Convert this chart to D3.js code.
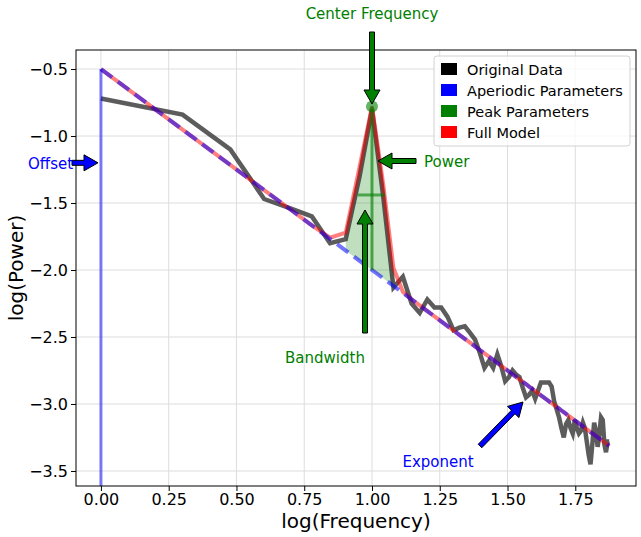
<!DOCTYPE html><html><head><meta charset="utf-8"><script src="https://cdn.jsdelivr.net/npm/d3@7"></script>
<style>body{margin:0;background:#fff}text{font-family:"DejaVu Sans",sans-serif}</style></head><body><svg id="c" width="641" height="537"></svg><script>
const freqs = d3.range(1,76);
const power = [-0.72,-0.84,-1.10,-1.47,-1.54,-1.60,-1.80,-1.77,-1.30,-0.80,-1.45,-2.13,
-2.05,-2.25,-2.32,-2.22,-2.28,-2.28,-2.35,-2.45,-2.43,-2.42,-2.47,-2.52,-2.62,-2.73,-2.68,-2.73,-2.63,-2.72,
-2.83,-2.80,-2.75,-2.78,-2.80,-2.88,-2.95,-2.93,-2.90,-2.96,-2.90,-2.84,-2.84,-2.84,-2.84,-2.87,-2.98,-3.04,
-3.10,-3.18,-3.25,-3.15,-3.12,-3.18,-3.22,-3.12,-3.18,-3.22,-3.20,-3.14,-3.18,-3.28,-3.38,-3.45,-3.30,-3.14,
-3.20,-3.32,-3.22,-3.10,-3.12,-3.30,-3.36,-3.28,-3.28];
const offset = -0.5, exponent = 1.5;
const peakCF = 10, peakPW = 1.22, peakSD = 0.95;
const bwEdges = [8.87, 11.17];
const bwLevel = -1.44;
const xTicks = [0,0.25,0.5,0.75,1,1.25,1.5,1.75];
const yTicks = [-3.5,-3,-2.5,-2,-1.5,-1,-0.5];
const legendItems = [["Original Data","black"],["Aperiodic Parameters","blue"],["Peak Parameters","green"],["Full Model","red"]];

const svg = d3.select("#c");
const L=76,R=636,T=50,B=486;
const x = d3.scaleLinear().domain([-0.092,1.974]).range([L,R]);
const y = d3.scaleLinear().domain([-3.612,-0.358]).range([B,T]);
const ap = f => offset - exponent*Math.log10(f);
const pk = f => peakPW*Math.exp(-((f-peakCF)**2)/(2*peakSD*peakSD));
const lx = f => x(Math.log10(f));

svg.append("g").selectAll("line").data(xTicks).join("line").attr("x1",d=>x(d)).attr("x2",d=>x(d)).attr("y1",T).attr("y2",B).attr("stroke","#ddd");
svg.append("g").selectAll("line").data(yTicks).join("line").attr("y1",d=>y(d)).attr("y2",d=>y(d)).attr("x1",L).attr("x2",R).attr("stroke","#ddd");

const line = d3.line().x(d=>d[0]).y(d=>d[1]);
const pf = freqs.filter(f=>f>=8&&f<=12);
const area = d3.area().x(f=>lx(f)).y0(f=>y(ap(f))).y1(f=>y(ap(f)+pk(f)));
svg.append("path").attr("d",area(pf)).attr("fill","green").attr("opacity",0.25);
svg.append("path").attr("d",line(freqs.map((f,i)=>[lx(f),y(power[i])]))).attr("fill","none").attr("stroke","#333").attr("stroke-width",4.5).attr("opacity",0.8);
svg.append("path").attr("d",line(freqs.map(f=>[lx(f),y(ap(f)+pk(f))]))).attr("fill","none").attr("stroke","red").attr("stroke-width",4).attr("opacity",0.5);
svg.append("path").attr("d",line(freqs.map(f=>[lx(f),y(ap(f))]))).attr("fill","none").attr("stroke","blue").attr("stroke-width",4).attr("stroke-dasharray","14,7").attr("opacity",0.55);
svg.append("line").attr("x1",x(0)).attr("x2",x(0)).attr("y1",y(offset)).attr("y2",B).attr("stroke","blue").attr("stroke-width",3).attr("opacity",0.5);
svg.append("line").attr("x1",lx(peakCF)).attr("x2",lx(peakCF)).attr("y1",y(ap(peakCF)+peakPW)).attr("y2",y(ap(peakCF))).attr("stroke","green").attr("stroke-width",3).attr("opacity",0.6);
svg.append("line").attr("x1",lx(bwEdges[0])).attr("x2",lx(bwEdges[1])).attr("y1",y(bwLevel)).attr("y2",y(bwLevel)).attr("stroke","green").attr("stroke-width",3).attr("opacity",0.6);
svg.append("circle").attr("cx",lx(peakCF)).attr("cy",y(ap(peakCF)+peakPW)).attr("r",6).attr("fill","green").attr("opacity",0.6);

svg.append("rect").attr("x",L).attr("y",T).attr("width",R-L).attr("height",B-T).attr("fill","none").attr("stroke","#000");
const gx=svg.append("g").attr("transform",`translate(0,${B})`).call(d3.axisBottom(x).tickValues(xTicks).tickFormat(d3.format(".2f")).tickSizeOuter(0).tickSize(5));
const gy=svg.append("g").attr("transform",`translate(${L},0)`).call(d3.axisLeft(y).tickValues(yTicks).tickFormat(d=>d3.format(".1f")(d).replace("-","\u2212")).tickSizeOuter(0).tickSize(5));
[gx,gy].forEach(g=>{g.select(".domain").remove();g.selectAll("text").attr("font-size",16).attr("font-family","DejaVu Sans").attr("fill","#000");});
svg.append("text").attr("x",(L+R)/2).attr("y",528).attr("text-anchor","middle").attr("font-size",20).text("log(Frequency)");
svg.append("text").attr("transform",`translate(23,${(T+B)/2}) rotate(-90)`).attr("text-anchor","middle").attr("font-size",20).text("log(Power)");

function arrow(x1,y1,x2,y2,color){
  const dx=x2-x1,dy=y2-y1,len=Math.hypot(dx,dy),ux=dx/len,uy=dy/len,px=-uy,py=ux;
  const hl=14,hw=8,sw=2.5;
  const bx=x2-ux*hl,by=y2-uy*hl;
  const pts=[[x1+px*sw,y1+py*sw],[bx+px*sw,by+py*sw],[bx+px*hw,by+py*hw],[x2,y2],[bx-px*hw,by-py*hw],[bx-px*sw,by-py*sw],[x1-px*sw,y1-py*sw]];
  svg.append("polygon").attr("points",pts.map(p=>p.join(",")).join(" ")).attr("fill",color).attr("stroke","#000").attr("stroke-width",1);
}
arrow(72,y(-1.2),98,y(-1.2),"blue");
arrow(372,32,372,104,"green");
arrow(416,161,378,161,"green");
arrow(365,333,365,210,"green");
arrow(480,446,523,402,"blue");
const ann=[["Offset",28,169,"blue","start"],["Center Frequency",372,19,"green","middle"],["Power",424,167,"green","start"],["Bandwidth",325,363,"green","middle"],["Exponent",438,467,"blue","middle"]];
svg.selectAll(".ann").data(ann).join("text").attr("x",d=>d[1]).attr("y",d=>d[2]).attr("fill",d=>d[3]).attr("text-anchor",d=>d[4]).attr("font-size",15).text(d=>d[0]);

const lg=svg.append("g");
lg.append("rect").attr("x",434).attr("y",56).attr("width",196).attr("height",90).attr("rx",3).attr("fill","#fff").attr("opacity",0.85).attr("stroke","#ccc");
legendItems.forEach((d,i)=>{
  lg.append("rect").attr("x",441).attr("y",63+i*21).attr("width",16).attr("height",12).attr("fill",d[1]);
  lg.append("text").attr("x",467).attr("y",75+i*21).attr("font-size",14.5).text(d[0]);
});
</script></body></html>
